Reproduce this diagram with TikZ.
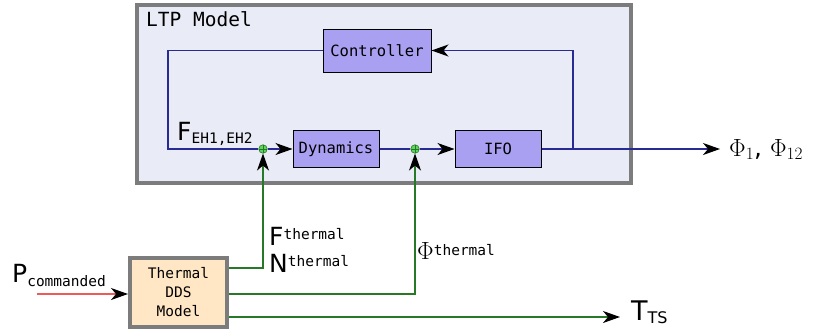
\documentclass[tikz,border=0pt]{standalone}
\usepackage{fontspec}
\setmainfont{DejaVu Sans}
\setmonofont{DejaVu Sans Mono}
\usetikzlibrary{arrows.meta,positioning}
\definecolor{ltpbg}{HTML}{E9EBF7}
\definecolor{frame}{HTML}{7C7C7C}
\definecolor{block}{HTML}{AAA0F2}
\definecolor{dds}{HTML}{FFE6C4}
\definecolor{navy}{HTML}{2A2A94}
\definecolor{forest}{HTML}{277827}
\definecolor{plus}{HTML}{5CD65C}
\definecolor{cmd}{HTML}{EE5A5A}
\newcommand{\lblbig}[1]{{\fontsize{25}{25}\selectfont #1}}
\newcommand{\lblsub}[2]{\raisebox{#1}{\ttfamily\fontsize{14.5}{14.5}\selectfont #2}}

\begin{document}
\begin{tikzpicture}[x=1pt,y=-1pt,
  blk/.style={draw=black,line width=1pt,fill=block,inner sep=0pt,font=\ttfamily\fontsize{15.5}{15.5}\selectfont},
  sum/.style={circle,draw=forest,fill=plus,line width=0.6pt,minimum size=8.5pt,inner sep=0pt,
    path picture={\draw[forest,line width=0.5pt] (path picture bounding box.north) -- (path picture bounding box.south)
      (path picture bounding box.west) -- (path picture bounding box.east);}},
  arr/.style={-{Stealth[length=17pt,width=12pt,inset=5pt,color=black]}},
  lbl/.style={anchor=base west,inner sep=0pt}]
 \useasboundingbox (0,0) rectangle (814,333);
 % LTP frame
 \node[draw=frame,line width=4pt,fill=ltpbg,minimum width=494pt,minimum height=178pt] (ltp) at (384,94) {};
 \node[lbl,font=\ttfamily\fontsize{19.5}{19.5}\selectfont] (ltptitle) at (146,26) {LTP Model};
 % blocks
 \node[blk,minimum width=108pt,minimum height=43pt] (ctrl) at (377,50.5) {Controller};
 \node[blk,minimum width=86pt,minimum height=37pt] (dyn) at (336,149) {Dynamics};
 \node[blk,minimum width=86pt,minimum height=37pt] (ifo) at (498,149) {IFO};
 \node[sum] (s1) at (263,149) {};
 \node[sum] (s2) at (415,149) {};
 \node[draw=frame,line width=4pt,fill=dds,minimum width=97pt,minimum height=69pt,inner sep=0pt,align=center,
   font=\ttfamily\fontsize{14.5}{19}\selectfont] (dds) at (178.5,292) {Thermal\\DDS\\Model};
 % loop
 \coordinate (fbl) at (168,149);
 \coordinate (tap) at (573,149);
 \coordinate (out) at (720,149);
 \draw[navy,line width=1.2pt] (ctrl.west) -| (fbl) -- (s1.west);
 \draw[navy,line width=1.2pt,arr] (s1.east) -- (dyn.west);
 \draw[navy,line width=1.2pt] (dyn.east) -- (s2.west);
 \draw[navy,line width=1.2pt,arr] (s2.east) -- (ifo.west);
 \draw[navy,line width=1.2pt,arr] (ifo.east) -- (out);
 \draw[navy,line width=1.2pt,arr] (tap) |- (ctrl.east);
 % thermal inputs
 \coordinate (pin) at (37,294);
 \coordinate (tts) at (620,317);
 \draw[cmd,line width=1.2pt,arr] (pin) -- (dds.west |- pin);
 \draw[forest,line width=1.2pt,arr] ([yshift=24pt]dds.east) -| (s1.south);
 \draw[forest,line width=1.2pt,arr] ([yshift=-2pt]dds.east) -| (s2.south);
 \draw[forest,line width=1.2pt,arr] ([yshift=-25pt]dds.east) -- (tts);
 % labels
 \node[lbl] (feh) at (177,140) {\lblbig{F}\lblsub{-3pt}{EH1,EH2}};
 \node[lbl] (fth) at (269,245) {\lblbig{F}\lblsub{6pt}{thermal}};
 \node[lbl] (nth) at (269,272) {\lblbig{N}\lblsub{6pt}{thermal}};
 \node[lbl] (phith) at (417,259) {\fontsize{25}{25}\selectfont$\Phi$\lblsub{4pt}{thermal}};
 \node[lbl] (pcmd) at (12,282) {\lblbig{P}\lblsub{-4pt}{commanded}};
 \node[lbl] (phiout) at (729,156) {\fontsize{25}{25}\selectfont$\Phi_1$, $\Phi_{12}$};
 \node[lbl] (ttslbl) at (631,320) {{\fontsize{27}{27}\selectfont T}\raisebox{-3pt}{\fontsize{16}{16}\selectfont TS}};
\end{tikzpicture}
\end{document}
